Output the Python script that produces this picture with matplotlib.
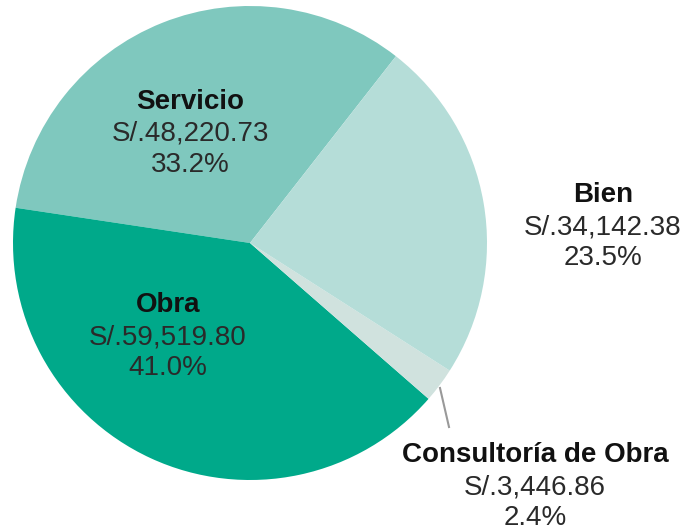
import matplotlib
matplotlib.use("Agg")
import matplotlib.pyplot as plt

categories = ["Servicio", "Obra", "Consultoría de Obra", "Bien"]
values = [48220.73, 59519.80, 3446.86, 34142.38]
colors = ["#7fc8be", "#00a98a", "#d0e2de", "#b5ddd8"]

plt.rcParams['font.family'] = ['Liberation Sans', 'DejaVu Sans']

fig = plt.figure(figsize=(6.83, 5.30), dpi=100)
ax = fig.add_axes([0, 0, 1, 1])

cx, cy, r = 250, 530 - 243, 237
ax.pie(values, colors=colors, startangle=52, counterclock=True,
       center=(cx, cy), radius=r, frame=True,
       wedgeprops=dict(linewidth=0))
ax.set_xlim(0, 683)
ax.set_ylim(0, 530)
ax.set_aspect('equal')
ax.axis('off')

total = sum(values)
label_pos = {
    "Servicio": (190, 102),
    "Obra": (168, 305),
    "Consultoría de Obra": (535, 455),
    "Bien": (603, 195),
}
step = 32
fs = 20
for cat, v in zip(categories, values):
    x, y = label_pos[cat]
    ax.text(x, 530 - y, cat, ha='center', va='center', fontsize=fs,
            fontweight='bold', color='#111111')
    ax.text(x, 530 - y - step, "S/.{:,.2f}".format(v), ha='center', va='center',
            fontsize=fs, color='#2a2a2a')
    ax.text(x, 530 - y - 2 * step + 1, "{:.1f}%".format(v / total * 100),
            ha='center', va='center', fontsize=fs, color='#2a2a2a')

# leader line for Consultoría de Obra
ax.plot([440, 449], [530 - 388, 530 - 427], color='#999999', lw=1.5)

fig.savefig("out.png", dpi=100)
